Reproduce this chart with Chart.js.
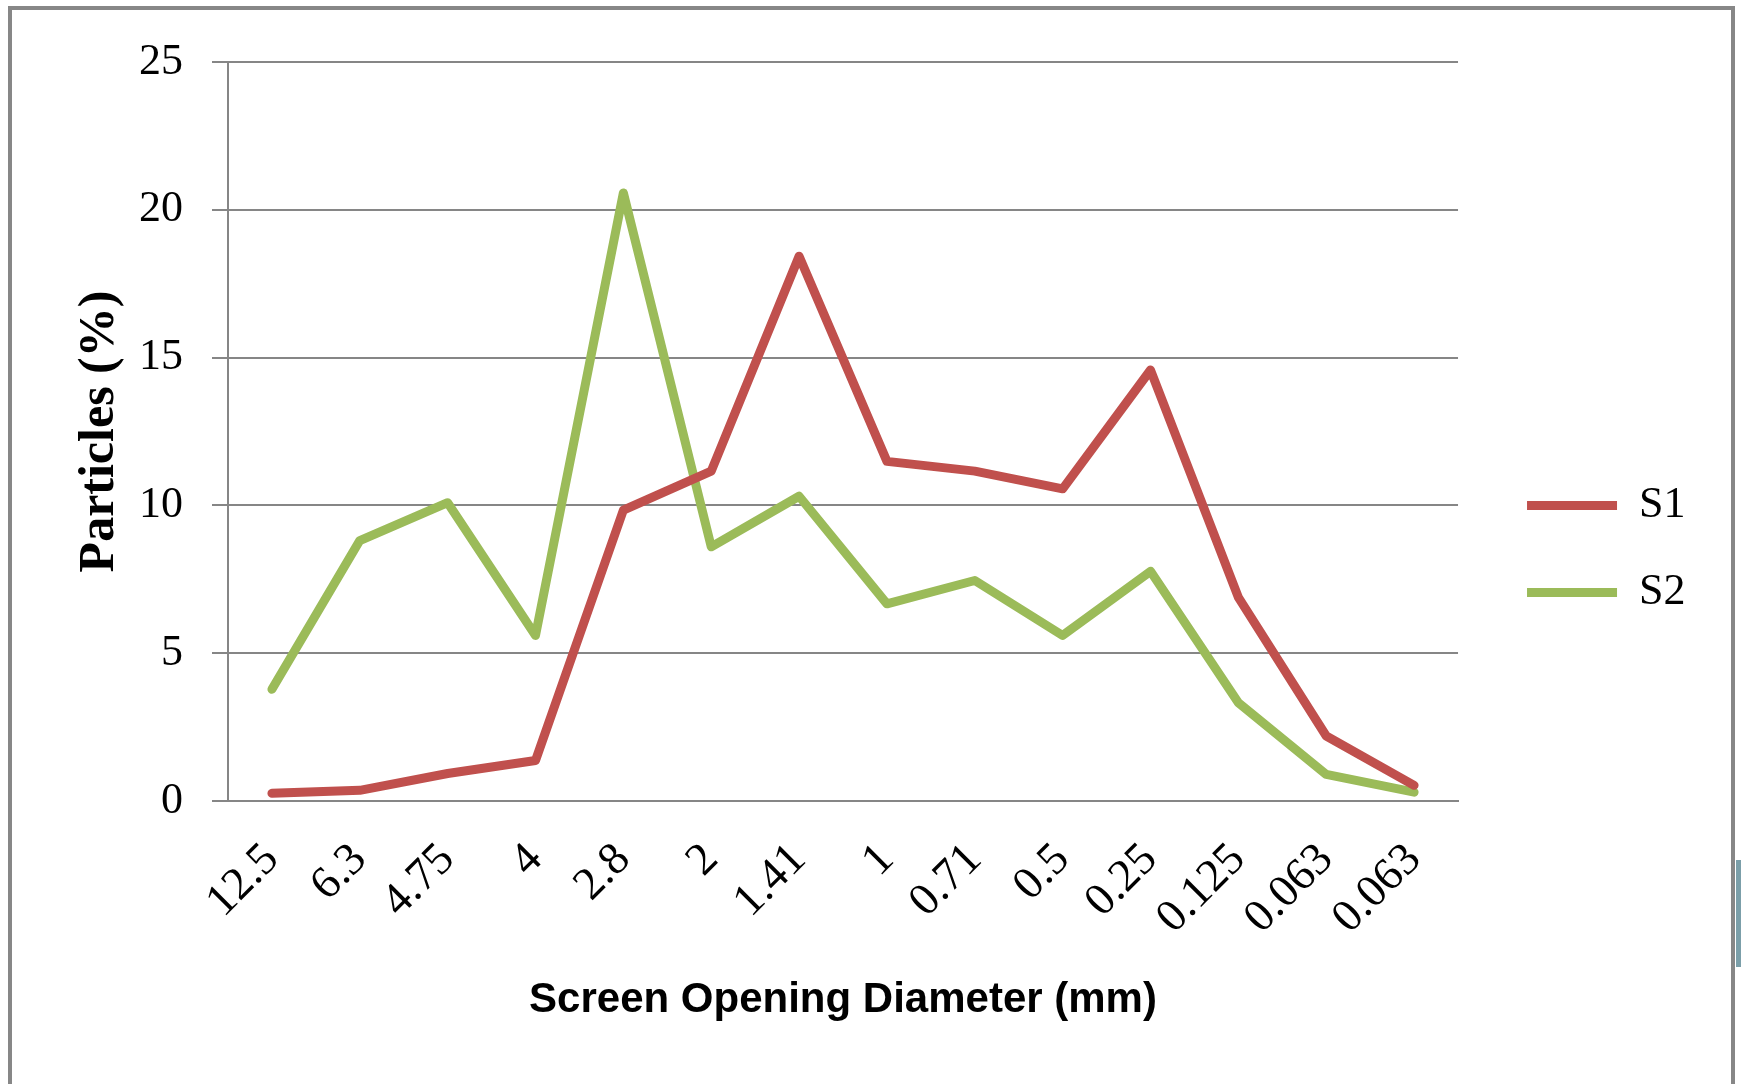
<!DOCTYPE html>
<html>
<head>
<meta charset="utf-8">
<title>Particles by screen opening</title>
<script src="https://cdn.jsdelivr.net/npm/chart.js"></script>
<style>
  html, body { margin: 0; padding: 0; background: #ffffff; overflow: hidden; }
  #wrap { position: relative; width: 1741px; height: 1084px; }
  #frame {
    position: absolute; left: 8px; top: 6px; width: 1727px; height: 1200px;
    border: 4px solid #878787; box-sizing: border-box; pointer-events: none;
  }
  #tab { position: absolute; left: 1736px; top: 860px; width: 5px; height: 107px; background: #7b9fa9; }
</style>
</head>
<body>
<div id="wrap">
  <canvas id="myChart"></canvas>
  <div id="frame"></div>
  <div id="tab"></div>
</div>
<script>
// screen opening sizes (mm)
const sizes = ["12.5", "6.3", "4.75", "4", "2.8", "2", "1.41", "1", "0.71", "0.5", "0.25", "0.125", "0.063", "0.063"];
// particle percentages per sample
const s1 = [0.26, 0.36, 0.93, 1.37, 9.84, 11.16, 18.43, 11.49, 11.16, 10.56, 14.58, 6.89, 2.2, 0.53];
const s2 = [3.78, 8.81, 10.09, 5.6, 20.57, 8.6, 10.31, 6.67, 7.46, 5.6, 7.77, 3.32, 0.9, 0.3];
const yTicks = [0, 5, 10, 15, 20, 25];

const red = "#c0504d";
const green = "#9bbb59";
const gridGray = "#868686";
const serif = "'Liberation Serif', 'Times New Roman', serif";

let myChart = document.getElementById("myChart").getContext("2d");

const lineChart = {
    type: "line",
    data: {
        labels: sizes,
        datasets: [{
            label: "S1",
            data: s1,
            borderColor: red,
            backgroundColor: red,
            borderWidth: 9,
            pointRadius: 0,
            tension: 0,
            borderJoinStyle: "round",
            borderCapStyle: "round"
        }, {
            label: "S2",
            data: s2,
            borderColor: green,
            backgroundColor: green,
            borderWidth: 9,
            pointRadius: 0,
            tension: 0,
            borderJoinStyle: "round",
            borderCapStyle: "round"
        }]
    },
    options: {
        responsive: true,
        maintainAspectRatio: false,
        animation: false,
        layout: {
            padding: { top: 62, right: 45.5, bottom: 48, left: 0 }
        },
        plugins: {
            title: { display: false },
            tooltip: { enabled: false },
            legend: {
                position: "right",
                labels: {
                    usePointStyle: true,
                    pointStyle: "line",
                    pointStyleWidth: 90,
                    padding: 43,
                    color: "#000000",
                    font: { family: serif, size: 44 }
                }
            }
        },
        scales: {
            x: {
                offset: true,
                grid: { display: false, drawTicks: false },
                border: { display: true, color: gridGray, width: 2 },
                ticks: {
                    autoSkip: false,
                    minRotation: 45,
                    maxRotation: 45,
                    padding: 32,
                    color: "#000000",
                    font: { family: serif, size: 46 }
                },
                title: {
                    display: true,
                    text: "Screen Opening Diameter (mm)",
                    color: "#000000",
                    font: { family: "'Liberation Sans', Arial, sans-serif", size: 42, weight: "bold" },
                    padding: { top: 0, bottom: 10.8 }
                },
                afterFit: function (scale) { scale.height = 235; }
            },
            y: {
                min: yTicks[0],
                max: yTicks[yTicks.length - 1],
                grid: { color: gridGray, lineWidth: 2, tickLength: 16 },
                border: { display: true, color: gridGray, width: 2 },
                ticks: {
                    stepSize: yTicks[1] - yTicks[0],
                    padding: 29,
                    color: "#000000",
                    font: { family: serif, size: 44 }
                },
                title: {
                    display: true,
                    text: "Particles (%)",
                    color: "#000000",
                    font: { family: serif, size: 50, weight: "bold" },
                    padding: { top: 70, bottom: 0 }
                },
                afterFit: function (scale) { scale.width = 228; }
            },
            // empty spacer between plot and legend
            gap: {
                position: "right",
                display: true,
                grid: { display: false, drawTicks: false },
                border: { display: false },
                ticks: { display: false },
                afterFit: function (scale) { scale.width = 26; }
            }
        }
    }
};

document.getElementById("myChart").parentNode.style.width = "1741px";
const chart = new Chart(myChart, lineChart);
</script>
</body>
</html>
